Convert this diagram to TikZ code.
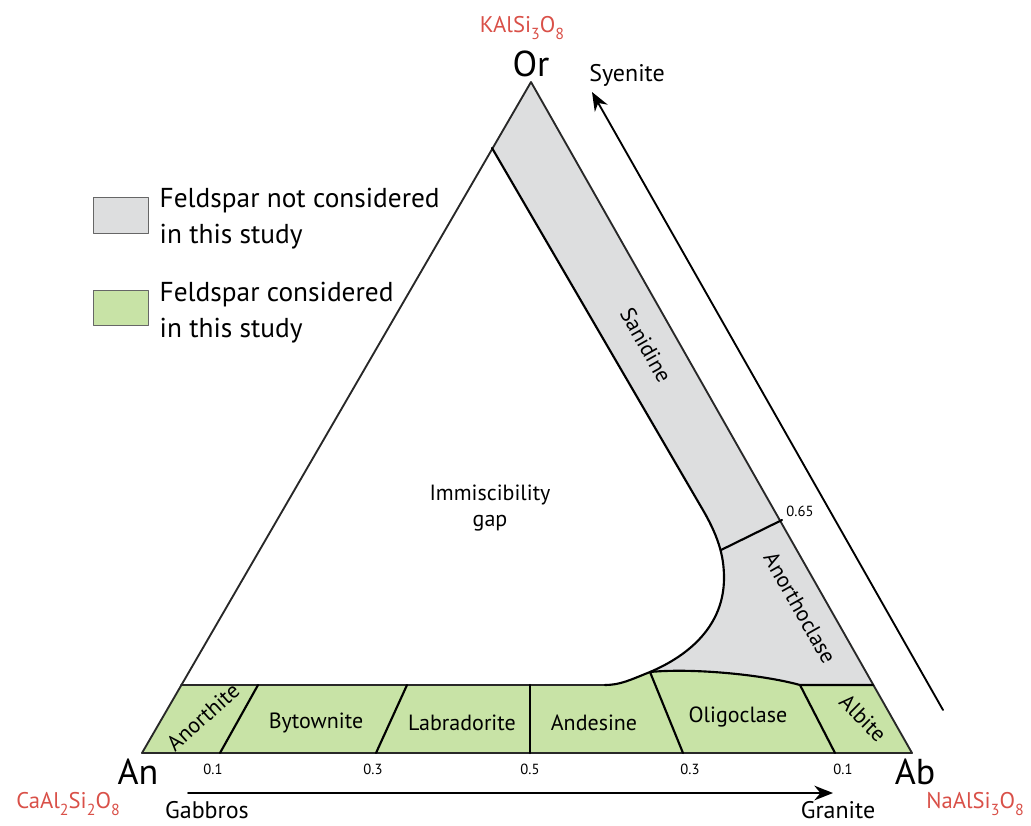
\documentclass[tikz,border=0pt]{standalone}
\usepackage{fontspec}
\setmainfont{PT Sans}
\usetikzlibrary{arrows.meta}
\definecolor{feldgrey}{RGB}{221,222,223}
\definecolor{feldgreen}{RGB}{200,227,166}
\definecolor{formula}{RGB}{217,80,72}
\definecolor{edge}{RGB}{40,40,40}
\newcommand{\chemsub}[1]{\raisebox{-0.55ex}{\fontsize{12}{12}\selectfont #1}}
\tikzset{
  greyzone/.style={fill=feldgrey,draw=none},
  greenzone/.style={fill=feldgreen,draw=none},
  outline/.style={draw=edge,line width=1.4pt},
  boundary/.style={draw=black,line width=1.6pt},
  phase/.style={font=\fontsize{16.5}{20}\selectfont},
  arrowtext/.style={font=\fontsize{18}{20}\selectfont},
  tick/.style={font=\fontsize{11}{12}\selectfont},
  corner/.style={font=\fontsize{27}{30}\selectfont},
  chem/.style={text=formula,font=\fontsize{17}{20}\selectfont},
  legend/.style={font=\fontsize{20.5}{27}\selectfont,align=left,anchor=west},
  keybox/.style={draw=gray!80!black,line width=0.6pt}
}
\begin{document}
\begin{tikzpicture}[x=0.75pt,y=-0.75pt,line join=round,line cap=round,>={Stealth[length=14pt,width=11pt]}]
	\useasboundingbox (0,0) rectangle (1031,825);
	%Đỉnh tam giác
	\path (531,82) coordinate (Or)
	(142,753) coordinate (An)
	(912,753) coordinate (Ab)
	(181,685) coordinate (L1)
	(873,685) coordinate (R1);
	%Đường giới hạn
	\path (492,148) coordinate (S1)
	(700,505) coordinate (S2)
	(724,578) coordinate (S3)
	(650,672) coordinate (S4)
	(605,685) coordinate (S5)
	(800,685) coordinate (G1)
	(782,520) coordinate (D1)
	(721,550) coordinate (D2);
	%Vùng xám
	\path[greyzone] (S1)--(Or)--(R1)--(G1) .. controls (760,674) and (690,668) .. (S4) .. controls (690,655) and (724,625) .. (S3) .. controls (724,555) and (718,535) .. (S2)--cycle;
	%Vùng xanh
	\path[greenzone] (An)--(L1)--(S5) .. controls (620,685) and (630,680) .. (S4) .. controls (690,668) and (760,674) .. (G1)--(R1)--(Ab)--cycle;
	%Các đường
	\draw[outline] (An)--(Or)--(Ab)--cycle;
	\draw[outline] (L1)--(S5);
	\draw[boundary] (S1)--(S2) .. controls (718,535) and (724,555) .. (S3) .. controls (724,625) and (690,655) .. (S4) .. controls (630,680) and (620,685) .. (S5);
	\draw[boundary] (S4) .. controls (690,668) and (760,674) .. (G1)--(R1);
	\draw[boundary] (D1)--(D2);
	\draw[boundary] (258,685) coordinate (B1)--(220,753) coordinate (B2);
	\draw[boundary] (407,685) coordinate (B3)--(376,753) coordinate (B4);
	\draw[boundary] (530,685) coordinate (B5)--(530,753) coordinate (B6);
	\draw[boundary] (S4)--(683,753) coordinate (B7);
	\draw[boundary] (G1)--(835,753) coordinate (B8);
	%Mũi tên
	\path (943,710) coordinate (Y1) (592,92) coordinate (Y2)
	(188,793) coordinate (H1) (833,793) coordinate (H2);
	\draw[->,line width=1.4pt] (Y1)--(Y2);
	\draw[->,line width=1.4pt] (H1)--(H2);
	%Nhãn
	\node[corner] (or) at (531,64) {Or};
	\node[corner] (an) at (138,772) {An};
	\node[corner] (ab) at (915,772) {Ab};
	\node[chem] (kal) at (522,28) {KAlSi\chemsub{3}O\chemsub{8}};
	\node[chem] (cal) at (68,804) {CaAl\chemsub{2}Si\chemsub{2}O\chemsub{8}};
	\node[chem] (nal) at (975,804) {NaAlSi\chemsub{3}O\chemsub{8}};
	\node[arrowtext] (sye) at (627,75) {Syenite};
	\node[arrowtext] (gab) at (207,810) {Gabbros};
	\node[arrowtext] (gra) at (838,810) {Granite};
	\node[tick] (t1) at (213,769) {0.1};
	\node[tick] (t2) at (373,769) {0.3};
	\node[tick] (t3) at (530,769) {0.5};
	\node[tick] (t4) at (690,769) {0.3};
	\node[tick] (t5) at (843,769) {0.1};
	\node[tick] (t6) at (800,511) {0.65};
	\node[phase,rotate=42] (ano) at (203,717) {Anorthite};
	\node[phase] (byt) at (316,723) {Bytownite};
	\node[phase] (lab) at (462,723) {Labradorite};
	\node[phase] (and) at (594,723) {Andesine};
	\node[phase] (oli) at (738,717) {Oligoclase};
	\node[phase,rotate=-45] (alb) at (863,718) {Albite};
	\node[phase,rotate=-60.5] (san) at (646,345) {Sanidine};
	\node[phase,rotate=-60.5] (ant) at (800,608) {Anorthoclase};
	\node[phase,align=center] (gap) at (490,508) {Immiscibility\\gap};
	%Chú thích
	\draw[keybox,fill=feldgrey] (93,197) rectangle (148,233);
	\draw[keybox,fill=feldgreen] (93,290) rectangle (148,325);
	\node[legend] (k1) at (155,219) {Feldspar not considered\\in this study};
	\node[legend] (k2) at (155,313) {Feldspar considered\\in this study};
\end{tikzpicture}
\end{document}
